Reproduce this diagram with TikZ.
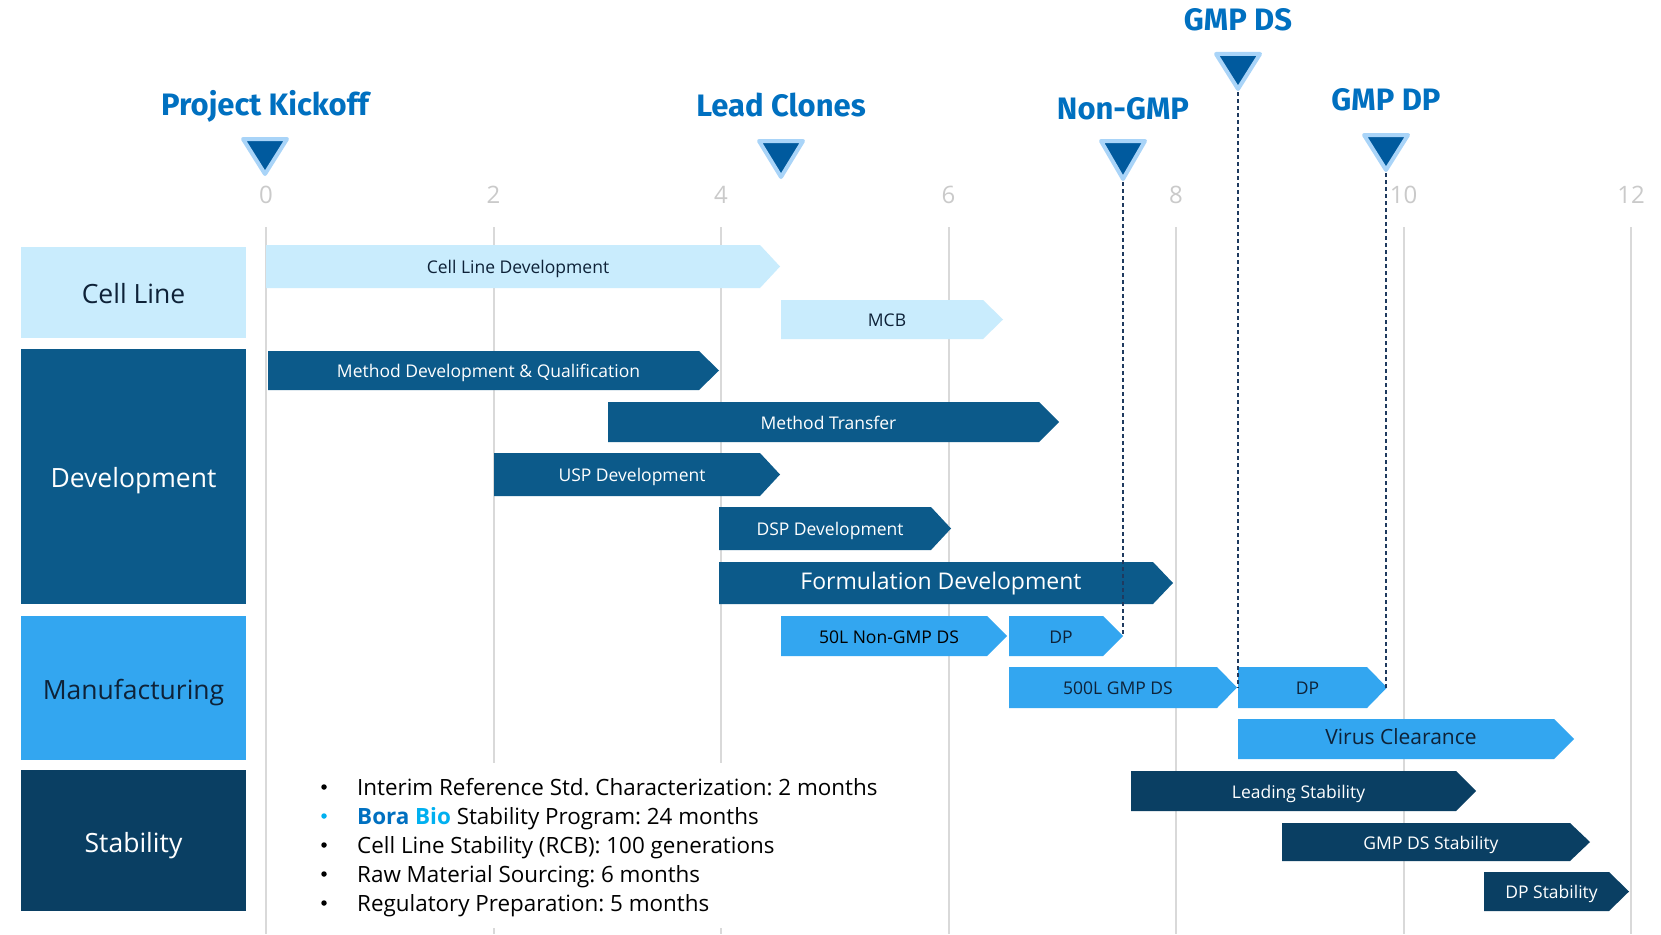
\documentclass[tikz,border=0pt]{standalone}
\usepackage{fontspec}
\setmainfont{Open Sans}
\newfontfamily\headfont{Fira Sans}
\frenchspacing
\definecolor{cl}{HTML}{C9ECFD}
\definecolor{dev}{HTML}{0C5A8A}
\definecolor{manu}{HTML}{33A6F0}
\definecolor{stab}{HTML}{0A3F63}
\definecolor{navytxt}{HTML}{0E2238}
\definecolor{mshead}{HTML}{0070C0}
\definecolor{msfill}{HTML}{005A9E}
\definecolor{msedge}{HTML}{A9D4F8}
\definecolor{gridc}{HTML}{D9D9D9}
\definecolor{ticktxt}{HTML}{CACACA}
\definecolor{dashc}{HTML}{1F3A5F}
\definecolor{borablue}{HTML}{0070C0}
\definecolor{biocyan}{HTML}{00B0F0}
\newcommand{\ganttbar}[8]{%
  \fill[#6] (#2,#4) -- ({#3-20},#4) -- (#3,{(#4+#5)/2}) -- ({#3-20},#5) -- (#2,#5) -- cycle;
  \coordinate (#1-tip) at (#3,{(#4+#5)/2});
  \node[bartext,#7] (#1) at ({(#2+#3-10)/2},{(#4+#5)/2+1}) {#8};
}
\newcommand{\milestone}[6]{%
  \filldraw[fill=msfill, draw=msedge, line width=4pt, line join=round] ({#2-22},{#3+2}) -- ({#2+22},{#3+2}) -- (#2,{#4-3}) -- cycle;
  \coordinate (#1-tri) at (#2,#4);
  \node[mslabel] (#1) at (#2,#5) {#6};
}
\begin{document}
\begin{tikzpicture}[x=1pt,y=-1pt,
  captext/.style={text depth=0pt, inner sep=0pt},
  bartext/.style={captext, text height=12.5pt, font=\fontsize{17.5}{20}\selectfont},
  lanetext/.style={font=\fontsize{26.5}{30}\selectfont, captext, text height=18.9pt},
  mslabel/.style={font=\headfont\bfseries\fontsize{31}{34}\selectfont, text=mshead, captext, text height=21.4pt},
  ticklabel/.style={font=\fontsize{24}{26}\selectfont, text=ticktxt, captext, text height=17.1pt},
  gridline/.style={draw=gridc, line width=2pt},
  dashline/.style={draw=dashc, line width=1.3pt, dash pattern=on 4pt off 3pt},
  bullettext/.style={font=\fontsize{22.4}{26}\selectfont, anchor=west, captext, text height=16pt},
  bulletdot/.style={circle, fill=black, inner sep=0pt, minimum size=5.5pt}
]
\useasboundingbox (0,0) rectangle (1661,934);
\fill[white] (0,0) rectangle (1661,934);

% grid lines and tick labels
\foreach \t in {0,2,...,12}{
  \draw[gridline] ({266+113.75*\t},227) -- ({266+113.75*\t},934);
  \node[ticklabel] (tick\t) at ({266+113.75*\t},195) {\t};
}

% lane boxes
\fill[cl] (21,247) rectangle (246,338);
\node[lanetext, text=navytxt] (laneCell) at (133.5,294.5) {Cell Line};
\fill[dev] (21,349) rectangle (246,604);
\node[lanetext, text=white] (laneDev) at (133.5,478.5) {Development};
\fill[manu] (21,616) rectangle (246,760);
\node[lanetext, text=navytxt] (laneManu) at (133.5,690) {Manufacturing};
\fill[stab] (21,770) rectangle (246,911);
\node[lanetext, text=white] (laneStab) at (133.5,843.5) {Stability};

% bars
\ganttbar{cld}{266}{780}{245}{288}{cl}{text=navytxt}{Cell Line Development}
\ganttbar{mcb}{781}{1003}{300}{339}{cl}{text=navytxt}{MCB}
\ganttbar{mdq}{268}{719}{351}{390}{dev}{text=white}{Method Development \& Qualification}
\ganttbar{mt}{608}{1059}{402}{442}{dev}{text=white}{Method Transfer}
\ganttbar{usp}{494}{780}{453}{496}{dev}{text=white}{USP Development}
\ganttbar{dsp}{719}{951}{507}{550}{dev}{text=white}{DSP Development}
\ganttbar{fd}{719}{1173}{562}{604}{dev}{text=white, font=\fontsize{23}{26}\selectfont, text height=16.4pt, yshift=3pt}{Formulation Development}
\ganttbar{ngds}{781}{1007}{616}{656}{manu}{text=black}{50L Non-GMP DS}
\ganttbar{dpa}{1009}{1123}{616}{656}{manu}{text=navytxt}{DP}
\ganttbar{gds}{1009}{1237}{667}{708}{manu}{text=navytxt}{500L GMP DS}
\ganttbar{dpb}{1238}{1387}{667}{708}{manu}{text=navytxt}{DP}
\ganttbar{vc}{1238}{1574}{719}{759}{manu}{text=navytxt, font=\fontsize{21}{24}\selectfont, text height=15pt, yshift=3pt}{Virus Clearance}
\ganttbar{ls}{1131}{1476}{771}{811}{stab}{text=white}{Leading Stability}
\ganttbar{gdss}{1282}{1590}{823}{861}{stab}{text=white}{GMP DS Stability}
\ganttbar{dps}{1484}{1629}{872}{911}{stab}{text=white}{DP Stability}

% milestones
\milestone{kick}{265}{137}{177}{105}{Project Kickoff}
\milestone{lead}{781}{139}{180}{106}{Lead Clones}
\milestone{ngmp}{1123}{139}{182}{109}{Non-GMP}
\milestone{gmpds}{1238}{52}{92}{20}{GMP DS}
\milestone{gmpdp}{1386}{133}{173}{100}{GMP DP}

% dashed connectors
\draw[dashline] (ngmp-tri) -- (dpa-tip);
\draw[dashline] (gmpds-tri) -- (gmpds-tri |- gds-tip);
\draw[dashline] (gmpdp-tri) -- (gmpdp-tri |- dpb-tip);

% bullet list
\fill[white] (290,763) rectangle (900,928);
\node[bulletdot] (b1) at (324,787) {};
\node[bullettext] (t1) at (357,787) {Interim Reference Std. Characterization: 2 months};
\node[bulletdot, fill=biocyan] (b2) at (324,816) {};
\node[bullettext] (t2) at (357,816) {\textcolor{borablue}{\bfseries Bora} \textcolor{biocyan}{\bfseries Bio} Stability Program: 24 months};
\node[bulletdot] (b3) at (324,845) {};
\node[bullettext] (t3) at (357,845) {Cell Line Stability (RCB): 100 generations};
\node[bulletdot] (b4) at (324,874) {};
\node[bullettext] (t4) at (357,874) {Raw Material Sourcing: 6 months};
\node[bulletdot] (b5) at (324,903) {};
\node[bullettext] (t5) at (357,903) {Regulatory Preparation: 5 months};
\end{tikzpicture}
\end{document}
